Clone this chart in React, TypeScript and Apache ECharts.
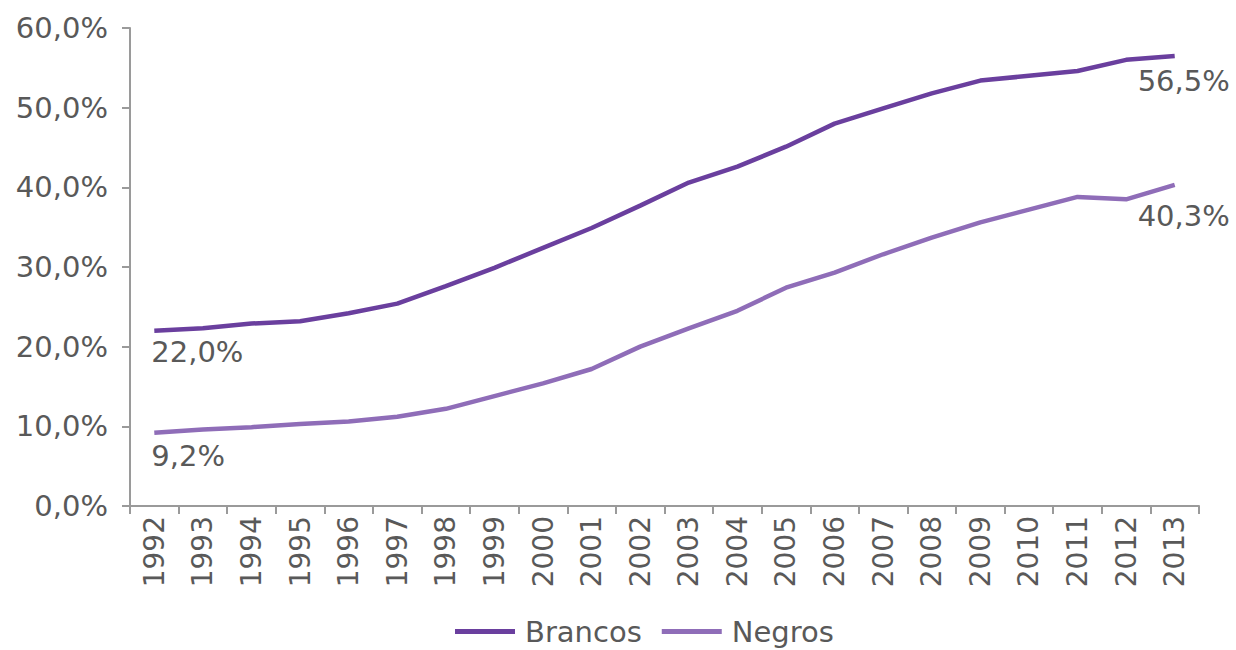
import React, { useEffect, useRef } from "react";
import * as echarts from "echarts";

const years = [
  "1992", "1993", "1994", "1995", "1996", "1997", "1998", "1999", "2000", "2001", "2002",
  "2003", "2004", "2005", "2006", "2007", "2008", "2009", "2010", "2011", "2012", "2013",
];
const brancos = [
  22.0, 22.3, 22.9, 23.2, 24.2, 25.4, 27.6, 29.9, 32.4, 34.9, 37.7,
  40.6, 42.6, 45.1, 48.0, 49.9, 51.8, 53.4, 54.0, 54.6, 56.0, 56.5,
];
const negros = [
  9.2, 9.6, 9.9, 10.3, 10.6, 11.2, 12.2, 13.8, 15.4, 17.2, 20.0,
  22.3, 24.5, 27.4, 29.3, 31.6, 33.7, 35.6, 37.2, 38.8, 38.5, 40.3,
];

const FONT = "DejaVu Sans";
const TEXT = "#595959";
const AXIS = "#9a9a9a";
const fmt = (v: number) => v.toFixed(1).replace(".", ",") + "%";

// label only the first and last point of each series
const withEndLabels = (values: number[], firstDy: number, lastDy: number) =>
  values.map((v, i) => {
    if (i === 0) {
      return {
        value: v,
        label: { show: true, position: "bottom", align: "left", offset: [-3, firstDy] },
      };
    }
    if (i === values.length - 1) {
      return {
        value: v,
        label: { show: true, position: "bottom", align: "center", offset: [9, lastDy] },
      };
    }
    return v;
  });

export default function App() {
  const ref = useRef<HTMLDivElement>(null);
  useEffect(() => {
    const chart = echarts.init(ref.current!, null, { renderer: "svg" });
    const labelStyle = {
      show: false,
      color: TEXT,
      fontFamily: FONT,
      fontSize: 29,
      formatter: (p: any) => fmt(Number(p.value)),
    };
    chart.setOption({
      animation: false,
      grid: { left: 130, right: 37, top: 28, bottom: 144, containLabel: false },
      legend: {
        top: 612,
        left: 450,
        icon: "rect",
        itemWidth: 60,
        itemHeight: 5,
        itemGap: 20,
        textStyle: { color: TEXT, fontFamily: FONT, fontSize: 29, padding: [0, 0, 0, 5] },
        data: ["Brancos", "Negros"],
      },
      xAxis: {
        type: "category",
        data: years,
        boundaryGap: true,
        axisLine: { lineStyle: { color: AXIS, width: 2 } },
        axisTick: { show: true, length: 8, lineStyle: { color: AXIS, width: 2 } },
        axisLabel: {
          rotate: 90,
          interval: 0,
          margin: 10,
          color: TEXT,
          fontFamily: FONT,
          fontSize: 28,
        },
      },
      yAxis: {
        type: "value",
        min: 0,
        max: 60,
        interval: 10,
        splitLine: { show: false },
        axisLine: { show: true, lineStyle: { color: AXIS, width: 2 } },
        axisTick: { show: true, length: 8, lineStyle: { color: AXIS, width: 2 } },
        axisLabel: {
          margin: 22,
          color: TEXT,
          fontFamily: FONT,
          fontSize: 29,
          formatter: (v: number) => fmt(v),
        },
      },
      series: [
        {
          name: "Brancos",
          type: "line",
          data: withEndLabels(brancos, 2, 6),
          symbol: "circle",
          symbolSize: 0,
          showSymbol: true,
          lineStyle: { color: "#6a3f9e", width: 4.5 },
          itemStyle: { color: "#6a3f9e" },
          label: labelStyle,
        },
        {
          name: "Negros",
          type: "line",
          data: withEndLabels(negros, 4, 12),
          symbol: "circle",
          symbolSize: 0,
          showSymbol: true,
          lineStyle: { color: "#8f6db8", width: 4.5 },
          itemStyle: { color: "#8f6db8" },
          label: labelStyle,
        },
      ],
    });
    return () => chart.dispose();
  }, []);
  return (
    <div
      ref={ref}
      style={{ position: "absolute", left: 0, top: 0, width: 1236, height: 650 }}
    />
  );
}
